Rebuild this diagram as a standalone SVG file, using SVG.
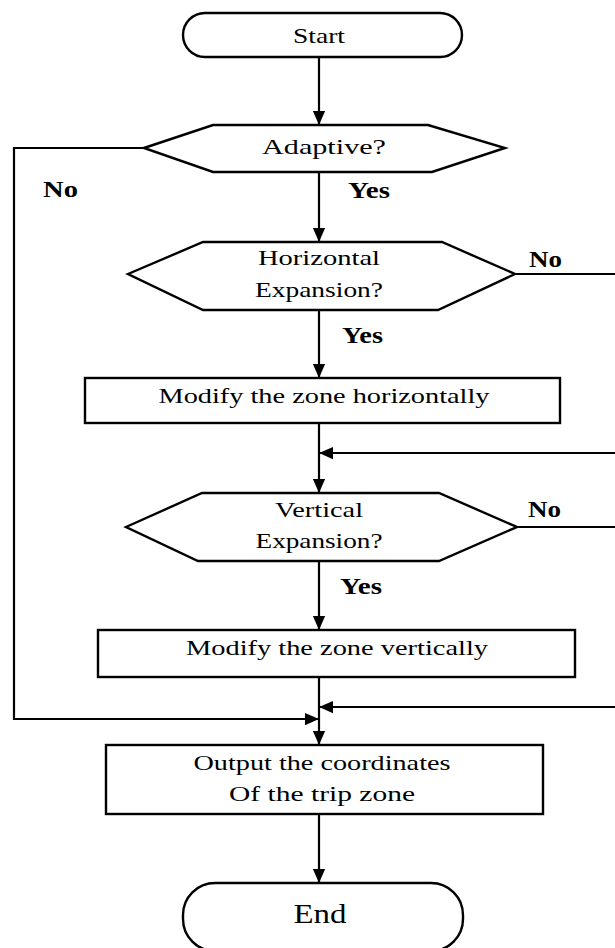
<svg xmlns="http://www.w3.org/2000/svg" width="615" height="948" viewBox="0 0 615 948">
<style>
.shape{fill:#fff;stroke:#000;stroke-width:2.4}
.conn{fill:none;stroke:#000;stroke-width:2.2}
.t{font-family:"Liberation Serif","Times New Roman",serif;font-size:22px;fill:#000;text-anchor:middle}
.big{font-size:27px}
.lbl{font-family:"Liberation Serif","Times New Roman",serif;font-size:23px;font-weight:bold;fill:#000}
</style>
<defs>
<marker id="arr" markerUnits="userSpaceOnUse" markerWidth="14" markerHeight="16" viewBox="0 0 16 14" refX="16" refY="7" orient="auto">
<path d="M0,0 L16,7 L0,14 Z" fill="#000"/>
</marker>
</defs>
<rect width="615" height="948" fill="#fff"/>
<g id="connectors">
<line class="conn" x1="319" y1="57" x2="319" y2="125" marker-end="url(#arr)"/>
<line class="conn" x1="319" y1="172" x2="319" y2="242" marker-end="url(#arr)"/>
<line class="conn" x1="319" y1="310" x2="319" y2="378" marker-end="url(#arr)"/>
<line class="conn" x1="319" y1="423" x2="319" y2="493" marker-end="url(#arr)"/>
<line class="conn" x1="319" y1="561" x2="319" y2="630" marker-end="url(#arr)"/>
<line class="conn" x1="319" y1="677" x2="319" y2="745" marker-end="url(#arr)"/>
<line class="conn" x1="319" y1="814" x2="319" y2="883" marker-end="url(#arr)"/>
<polyline class="conn" points="144,148 14,148 14,719 319,719" marker-end="url(#arr)"/>
<line class="conn" x1="515" y1="274" x2="615" y2="274"/>
<line class="conn" x1="615" y1="453" x2="319" y2="453" marker-end="url(#arr)"/>
<line class="conn" x1="517" y1="527" x2="615" y2="527"/>
<line class="conn" x1="615" y1="707" x2="319" y2="707" marker-end="url(#arr)"/>
<text class="lbl" x="43" y="197" textLength="35" lengthAdjust="spacingAndGlyphs">No</text>
<text class="lbl" x="348" y="198" textLength="42" lengthAdjust="spacingAndGlyphs">Yes</text>
<text class="lbl" x="529" y="267" textLength="33" lengthAdjust="spacingAndGlyphs">No</text>
<text class="lbl" x="342" y="343" textLength="41" lengthAdjust="spacingAndGlyphs">Yes</text>
<text class="lbl" x="528" y="517" textLength="33" lengthAdjust="spacingAndGlyphs">No</text>
<text class="lbl" x="340" y="594" textLength="42" lengthAdjust="spacingAndGlyphs">Yes</text>
</g>
<g id="start">
<rect class="shape" x="183" y="13" width="279" height="44" rx="22" ry="22"/>
<text class="t" x="319" y="43" textLength="52" lengthAdjust="spacingAndGlyphs">Start</text>
</g>
<g id="adaptive">
<polygon class="shape" points="144,148 213,125 428,125 505,148 432,172 213,172"/>
<text class="t" x="324" y="154" textLength="124" lengthAdjust="spacingAndGlyphs">Adaptive?</text>
</g>
<g id="horizontal">
<polygon class="shape" points="128,274 203,242 442,242 515,274 438,310 203,310"/>
<text class="t" x="319" y="265" textLength="122" lengthAdjust="spacingAndGlyphs">Horizontal</text>
<text class="t" x="319" y="297" textLength="128" lengthAdjust="spacingAndGlyphs">Expansion?</text>
</g>
<g id="modify-h">
<rect class="shape" x="85" y="378" width="475" height="45"/>
<text class="t" x="324" y="403" textLength="331" lengthAdjust="spacingAndGlyphs">Modify the zone horizontally</text>
</g>
<g id="vertical">
<polygon class="shape" points="126,527 202,493 439,493 517,527 439,561 198,561"/>
<text class="t" x="319" y="517" textLength="88" lengthAdjust="spacingAndGlyphs">Vertical</text>
<text class="t" x="319" y="548" textLength="127" lengthAdjust="spacingAndGlyphs">Expansion?</text>
</g>
<g id="modify-v">
<rect class="shape" x="98" y="630" width="477" height="47"/>
<text class="t" x="337" y="655" textLength="302" lengthAdjust="spacingAndGlyphs">Modify the zone vertically</text>
</g>
<g id="output">
<rect class="shape" x="106" y="745" width="437" height="69"/>
<text class="t" x="322" y="770" textLength="257" lengthAdjust="spacingAndGlyphs">Output the coordinates</text>
<text class="t" x="322" y="801" textLength="186" lengthAdjust="spacingAndGlyphs">Of the trip zone</text>
</g>
<g id="end">
<rect class="shape" x="183" y="883" width="280" height="68" rx="32" ry="32"/>
<text class="t big" x="320" y="923" textLength="53" lengthAdjust="spacingAndGlyphs">End</text>
</g>
</svg>
